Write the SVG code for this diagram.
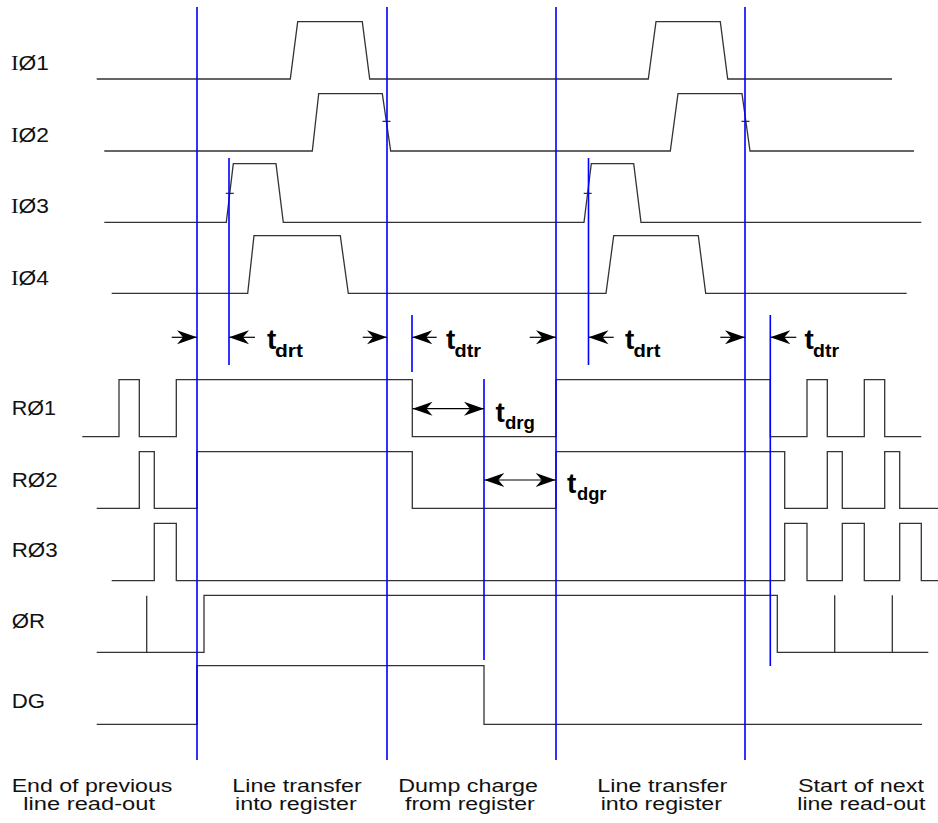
<svg xmlns="http://www.w3.org/2000/svg" width="938" height="823" viewBox="0 0 938 823">
<style>
.w{fill:none;stroke:#333;stroke-width:1.3}
.b{fill:none;stroke:#0000ff;stroke-width:1.6}
.a{fill:none;stroke:#000;stroke-width:1.2}
.lbl{font-family:"Liberation Sans",Arial,sans-serif;font-size:20px;fill:#111}
.ser{font-family:"Liberation Serif","Times New Roman",serif}
.cap{font-family:"Liberation Sans",Arial,sans-serif;font-size:17.5px;fill:#111}
.t{font-family:"Liberation Sans",Arial,sans-serif;font-size:28px;font-weight:bold;fill:#000}
.s{font-family:"Liberation Sans",Arial,sans-serif;font-size:19px;font-weight:bold;fill:#000}
</style>
<defs>
<marker id="ah" markerUnits="userSpaceOnUse" markerWidth="22" markerHeight="18" viewBox="-21 -9 22 18" refX="0" refY="0" orient="auto-start-reverse">
<path d="M0,0 L-20,-7 L-14,0 L-20,7 Z" fill="#000"/>
</marker>
</defs>
<rect width="938" height="823" fill="#fff"/>

<g id="sig-I1">
<text class="lbl" x="11" y="69.5" textLength="38" lengthAdjust="spacingAndGlyphs"><tspan class="ser">I</tspan>Ø1</text>
<path class="w" d="M96.7,79 H290.3 L297.7,21.7 H362.3 L369.7,79 H648.3 L656,21.7 H720.3 L727.7,79 H892"/>
</g>
<g id="sig-I2">
<text class="lbl" x="11" y="141.5" textLength="38" lengthAdjust="spacingAndGlyphs"><tspan class="ser">I</tspan>Ø2</text>
<path class="w" d="M104.3,151 H312.3 L318.7,93.7 H382.3 L390.7,151 H670.3 L678,93.7 H742 L750,151 H914"/>
<path class="w" d="M382.5,121.3 H390.5 M741.5,121.3 H749.5" stroke="#000"/>
</g>
<g id="sig-I3">
<text class="lbl" x="11" y="213.3" textLength="38" lengthAdjust="spacingAndGlyphs"><tspan class="ser">I</tspan>Ø3</text>
<path class="w" d="M104.3,222.3 H226.3 L233.3,163.7 H276 L283.3,222.3 H584 L591.3,163.7 H633.7 L641,222.3 H921.3"/>
<path class="w" d="M225.8,193.3 H233.8 M583.7,193.3 H591.7" stroke="#000"/>
</g>
<g id="sig-I4">
<text class="lbl" x="11" y="285" textLength="38" lengthAdjust="spacingAndGlyphs"><tspan class="ser">I</tspan>Ø4</text>
<path class="w" d="M111.7,293.3 H247.7 L254,235.7 H340.3 L348.3,293.3 H606 L613.7,235.7 H698.3 L705.7,293.3 H906.7"/>
</g>

<g id="sig-R1">
<text class="lbl" x="11.7" y="415" textLength="44.3" lengthAdjust="spacingAndGlyphs">RØ1</text>
<path class="w" d="M82.3,436.7 H119 V379.7 H139.3 V436.7 H176.3 V379.7 H412.3 V436.7 H556 V379.7 H770.3 V436.7 H807 V379.7 H827.3 V436.7 H864.3 V379.7 H884.7 V436.7 H921.3"/>
</g>
<g id="sig-R2">
<text class="lbl" x="11.7" y="486.7" textLength="46" lengthAdjust="spacingAndGlyphs">RØ2</text>
<path class="w" d="M96.7,508.3 H139.3 V451.7 H154.3 V508.3 H197 V451.7 H412.3 V508.3 H556 V451.7 H784.7 V508.3 H827.3 V451.7 H842.3 V508.3 H884.7 V451.7 H899.7 V508.3 H938"/>
</g>
<g id="sig-R3">
<text class="lbl" x="11.7" y="556.7" textLength="46" lengthAdjust="spacingAndGlyphs">RØ3</text>
<path class="w" d="M111.7,580.7 H154.3 V523.3 H176.3 V580.7 H784.7 V523.3 H807 V580.7 H842.3 V523.3 H864.3 V580.7 H899.7 V523.3 H921.3 V580.7 H938"/>
</g>
<g id="sig-OR">
<text class="lbl" x="11.7" y="628.3" textLength="33.3" lengthAdjust="spacingAndGlyphs">ØR</text>
<path class="w" d="M96.7,652.3 H204 V595.3 H777.3 V652.3 H928.3 M146.7,652.3 V595.7 M834.7,652.3 V595.3 M892.3,652.3 V595.3"/>
</g>
<g id="sig-DG">
<text class="lbl" x="11.7" y="707.7" textLength="33.3" lengthAdjust="spacingAndGlyphs">DG</text>
<path class="w" d="M96.7,724.3 H197 V665.7 H484 V724.3 H922"/>
</g>

<g id="markers-blue">
<path class="b" d="M197,7 V760 M387,7 V760 M556,7 V760 M745,7 V760"/>
<path class="b" d="M229,158 V365 M588.5,158 V365 M412,315 V372 M770.3,315 V666 M484,379 V660"/>
</g>

<g id="connectors">
<line class="a" x1="171.7" y1="337.3" x2="197" y2="337.3" marker-end="url(#ah)"/>
<line class="a" x1="255" y1="337.3" x2="229" y2="337.3" marker-end="url(#ah)"/>
<line class="a" x1="362.7" y1="337.3" x2="387" y2="337.3" marker-end="url(#ah)"/>
<line class="a" x1="436.7" y1="337.3" x2="412.3" y2="337.3" marker-end="url(#ah)"/>
<line class="a" x1="529.7" y1="337.3" x2="556" y2="337.3" marker-end="url(#ah)"/>
<line class="a" x1="613.7" y1="337.3" x2="588.5" y2="337.3" marker-end="url(#ah)"/>
<line class="a" x1="720.3" y1="337.3" x2="745" y2="337.3" marker-end="url(#ah)"/>
<line class="a" x1="796.3" y1="337.3" x2="770.3" y2="337.3" marker-end="url(#ah)"/>
<line class="a" x1="412.5" y1="408.7" x2="484" y2="408.7" marker-start="url(#ah)" marker-end="url(#ah)"/>
<line class="a" x1="484.3" y1="480" x2="555.7" y2="480" marker-start="url(#ah)" marker-end="url(#ah)"/>
</g>

<g id="timing-labels">
<text class="t" x="267" y="349">t</text><text class="s" x="275" y="356.5" textLength="28" lengthAdjust="spacingAndGlyphs">drt</text>
<text class="t" x="446" y="349">t</text><text class="s" x="454.5" y="356.5" textLength="26.5" lengthAdjust="spacingAndGlyphs">dtr</text>
<text class="t" x="625" y="349">t</text><text class="s" x="633.5" y="356.5" textLength="27" lengthAdjust="spacingAndGlyphs">drt</text>
<text class="t" x="804.5" y="349">t</text><text class="s" x="813" y="356.5" textLength="26" lengthAdjust="spacingAndGlyphs">dtr</text>
<text class="t" x="495.5" y="421.5">t</text><text class="s" x="505" y="428.5" textLength="30" lengthAdjust="spacingAndGlyphs">drg</text>
<text class="t" x="567" y="493">t</text><text class="s" x="577" y="500" textLength="29.5" lengthAdjust="spacingAndGlyphs">dgr</text>
</g>

<g id="phase-labels">
<text class="cap" x="11.7" y="791.5" textLength="160.7" lengthAdjust="spacingAndGlyphs">End of previous</text>
<text class="cap" x="23.3" y="810" textLength="131.7" lengthAdjust="spacingAndGlyphs">line read-out</text>
<text class="cap" x="232.3" y="791.5" textLength="129.4" lengthAdjust="spacingAndGlyphs">Line transfer</text>
<text class="cap" x="235" y="810" textLength="121.7" lengthAdjust="spacingAndGlyphs">into register</text>
<text class="cap" x="398.3" y="791.5" textLength="139.7" lengthAdjust="spacingAndGlyphs">Dump charge</text>
<text class="cap" x="405" y="810" textLength="129.7" lengthAdjust="spacingAndGlyphs">from register</text>
<text class="cap" x="597.3" y="791.5" textLength="130" lengthAdjust="spacingAndGlyphs">Line transfer</text>
<text class="cap" x="600.7" y="810" textLength="121.3" lengthAdjust="spacingAndGlyphs">into register</text>
<text class="cap" x="798" y="791.5" textLength="126" lengthAdjust="spacingAndGlyphs">Start of next</text>
<text class="cap" x="797.3" y="810" textLength="128" lengthAdjust="spacingAndGlyphs">line read-out</text>
</g>
</svg>
